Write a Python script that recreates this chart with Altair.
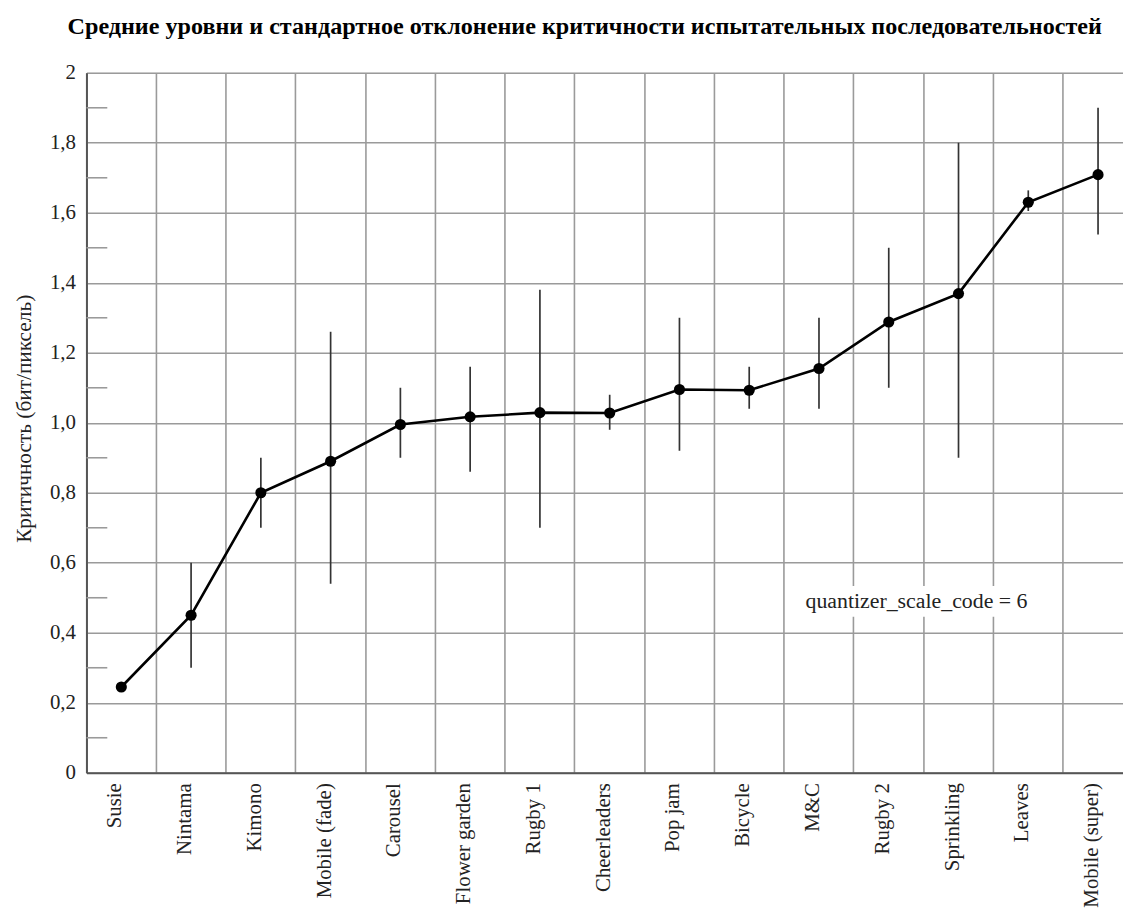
import altair as alt
import pandas as pd

categories = ["Susie", "Nintama", "Kimono", "Mobile (fade)", "Carousel", "Flower garden",
              "Rugby 1", "Cheerleaders", "Pop jam", "Bicycle", "M&C", "Rugby 2",
              "Sprinkling", "Leaves", "Mobile (super)"]
means = [0.245, 0.45, 0.80, 0.89, 0.995, 1.017, 1.029, 1.028, 1.095, 1.093, 1.155, 1.288, 1.369, 1.630, 1.709]
lows = [0.245, 0.30, 0.70, 0.54, 0.90, 0.86, 0.70, 0.98, 0.92, 1.04, 1.04, 1.10, 0.90, 1.605, 1.538]
highs = [0.245, 0.60, 0.90, 1.26, 1.10, 1.16, 1.38, 1.08, 1.30, 1.16, 1.30, 1.50, 1.80, 1.664, 1.90]
major_ticks = [0, 0.2, 0.4, 0.6, 0.8, 1.0, 1.2, 1.4, 1.6, 1.8, 2.0]
minor_ticks = [0.1, 0.3, 0.5, 0.7, 0.9, 1.1, 1.3, 1.5, 1.7, 1.9]
note_text = "quantizer_scale_code = 6"
note_y = 0.49

FONT = "Liberation Serif"

df = pd.DataFrame({"cat": categories, "mean": means, "low": lows, "high": highs})
minor_df = pd.DataFrame({"v": minor_ticks})
note_df = pd.DataFrame({"t": [note_text], "y": [note_y]})

xscale = alt.Scale(type="band", paddingInner=0, paddingOuter=0, range=[0, 1054])
yscale = alt.Scale(domain=[0, 2], nice=False, zero=True)

xenc = alt.X("cat:N", sort=categories, scale=xscale,
             axis=alt.Axis(title=None, grid=True, bandPosition=0,
                           ticks=False, labelAngle=270, labelAlign="right",
                           labelBaseline="alphabetic", labelPadding=10,
                           labelFont=FONT, labelFontSize=21, labelColor="#222",
                           domainColor="#555", domainWidth=2,
                           gridColor="#9a9a9a", gridWidth=1.6))

yaxis = alt.Axis(title="Критичность (бит/пиксель)", values=major_ticks, grid=True,
                 ticks=False, labelPadding=11,
                 labelExpr="datum.value == 0 ? '0' : (datum.value == 2 ? '2' : replace(format(datum.value, '.1f'), '.', ','))",
                 labelFont=FONT, labelFontSize=21, labelColor="#222",
                 titleFont=FONT, titleFontSize=21.5, titleFontWeight="normal", titleColor="#222",
                 titleX=-56, titleY=348, titleBaseline="alphabetic", titleAngle=270,
                 titleAlign="center",
                 domainColor="#555", domainWidth=2,
                 gridColor="#9a9a9a", gridWidth=1.6)

base = alt.Chart(df)

errbars = base.mark_rule(color="#333", strokeWidth=1.7).encode(
    x=xenc,
    y=alt.Y("low:Q", scale=yscale, axis=yaxis),
    y2="high:Q",
)
line = base.mark_line(color="black", strokeWidth=2.6).encode(
    x=alt.X("cat:N", sort=categories), y=alt.Y("mean:Q"))
points = base.mark_circle(color="black", size=125, opacity=1).encode(
    x=alt.X("cat:N", sort=categories), y=alt.Y("mean:Q"))

minor = alt.Chart(minor_df).mark_rule(color="#9a9a9a", strokeWidth=1.6).encode(
    x=alt.value(0), x2=alt.value(21), y=alt.Y("v:Q"))

note_bg = alt.Chart(note_df).mark_rect(color="white").encode(
    x=alt.value(721), x2=alt.value(953), y=alt.value(517), y2=alt.value(548))
note = alt.Chart(note_df).mark_text(font=FONT, fontSize=22, color="#222",
                                    align="center", baseline="middle").encode(
    x=alt.value(836), y=alt.Y("y:Q"), text="t:N")

chart = alt.layer(minor, errbars, line, points, note_bg, note).properties(
    width=1044, height=705,
    autosize=alt.AutoSizeParams(type="none"),
    padding={"left": 79, "top": 62, "right": 0, "bottom": 137},
    title=alt.TitleParams(
        "Средние уровни и стандартное отклонение критичности испытательных последовательностей",
        font=FONT, fontSize=24.3, fontWeight="bold", color="black",
        anchor="start", frame="group", dx=-19, offset=4, baseline="alphabetic"),
).configure_view(stroke=None).configure(background="white")

chart.save("out.html", embed_options={"renderer": "svg", "actions": False})
